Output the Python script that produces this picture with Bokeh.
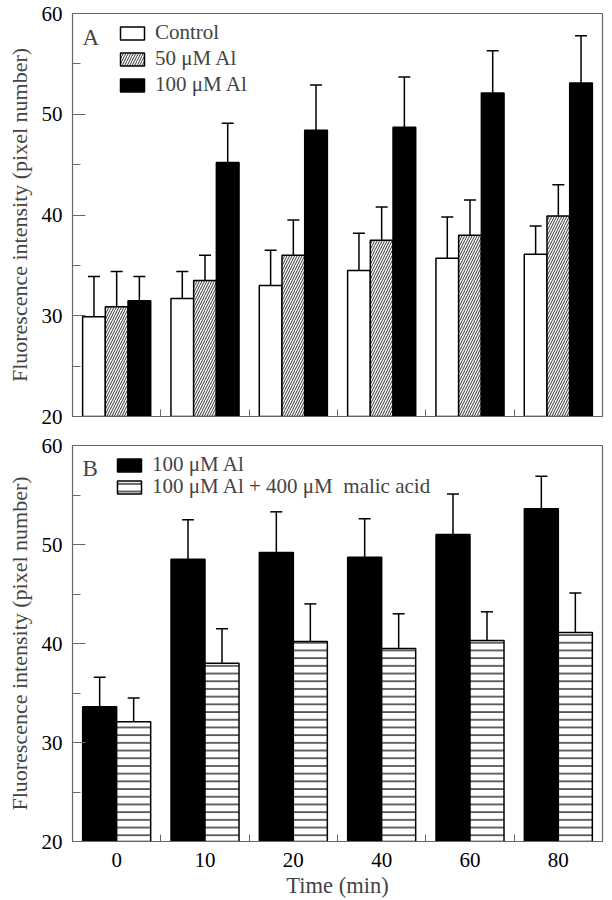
from bokeh.plotting import figure
from bokeh.models import (ColumnDataSource, Whisker, TeeHead, FixedTicker, Legend,
                          LegendItem, Label, Range1d)
from bokeh.layouts import column
from bokeh.embed import file_html
from bokeh.resources import INLINE

# ---------------- data ----------------
times = ["0", "10", "20", "40", "60", "80"]

# Panel A
a_control = [29.9, 31.7, 33.0, 34.5, 35.7, 36.1]
a_control_top = [33.9, 34.4, 36.5, 38.2, 39.8, 38.9]
a_al50 = [30.9, 33.5, 36.0, 37.5, 38.0, 39.9]
a_al50_top = [34.4, 36.0, 39.5, 40.8, 41.5, 43.0]
a_al100 = [31.5, 45.2, 48.4, 48.7, 52.1, 53.1]
a_al100_top = [33.9, 49.1, 52.9, 53.7, 56.3, 57.8]

# Panel B
b_al100 = [33.6, 48.5, 49.2, 48.7, 51.0, 53.6]
b_al100_top = [36.6, 52.5, 53.3, 52.6, 55.1, 56.9]
b_malic = [32.1, 38.0, 40.2, 39.5, 40.3, 41.1]
b_malic_top = [34.5, 41.5, 44.0, 43.0, 43.2, 45.1]

y_ticks = [20, 30, 40, 50, 60]
y_minor = [25, 35, 45, 55]

FONT = "Liberation Serif"
GRAY = "#666666"
TICK_FS = "21px"
LABEL_FS = "22.5px"
YLABEL_FS = "22px"
idx = list(range(len(times)))


def base_fig(height, border_top, border_bottom):
    p = figure(width=608, height=height, output_backend="svg", toolbar_location=None,
               x_range=Range1d(-0.5, len(times) - 0.5), y_range=Range1d(20, 60),
               min_border_left=72, min_border_right=6,
               min_border_top=border_top, min_border_bottom=border_bottom)
    p.xgrid.visible = False
    p.ygrid.visible = False
    p.outline_line_color = GRAY
    p.outline_line_width = 1.2
    p.background_fill_color = "white"
    p.border_fill_color = "white"

    ya = p.yaxis[0]
    ya.ticker = FixedTicker(ticks=y_ticks, minor_ticks=y_minor)
    ya.axis_line_color = GRAY
    ya.major_tick_line_color = GRAY
    ya.minor_tick_line_color = GRAY
    ya.major_tick_in = 13
    ya.major_tick_out = 0
    ya.minor_tick_in = 8
    ya.minor_tick_out = 0
    ya.major_label_text_font = FONT
    ya.major_label_text_font_size = TICK_FS
    ya.major_label_text_color = "black"
    ya.major_label_standoff = 10
    ya.axis_label = "Fluorescence intensity (pixel number)"
    ya.axis_label_text_font = FONT
    ya.axis_label_text_font_size = YLABEL_FS
    ya.axis_label_text_font_style = "normal"
    ya.axis_label_standoff = 7

    xa = p.xaxis[0]
    xa.ticker = FixedTicker(ticks=idx, minor_ticks=[i + 0.5 for i in idx[:-1]])
    xa.axis_line_color = GRAY
    xa.major_tick_line_color = None
    xa.minor_tick_line_color = GRAY
    xa.minor_tick_in = 7
    xa.minor_tick_out = 0
    xa.major_label_text_font = FONT
    xa.major_label_text_font_size = TICK_FS
    xa.major_label_text_color = "black"
    xa.major_label_standoff = 5
    return p


def add_err(p, xs, tops, uppers):
    src = ColumnDataSource(dict(x=xs, lower=tops, upper=uppers))
    w = Whisker(source=src, base="x", lower="lower", upper="upper",
                line_color="black", line_width=1.5,
                upper_head=TeeHead(size=12, line_width=1.5, line_color="black"),
                lower_head=None)
    p.add_layout(w)


def make_legend(items, loc, spacing=0):
    return Legend(items=items, location=loc, orientation="vertical",
                  label_text_font=FONT, label_text_font_size=TICK_FS,
                  label_text_line_height=1.0,
                  glyph_width=30, glyph_height=16, label_standoff=8, spacing=spacing,
                  label_height=20, padding=0, margin=0,
                  border_line_color=None, background_fill_alpha=0)


# ---------------- Panel A ----------------
pA = base_fig(430, 13, 14)
pA.xaxis[0].major_label_overrides = {i: "" for i in idx}
pA.xaxis[0].major_label_text_font_size = "0px"

bwA = 0.257
offsA = [-bwA, 0.0, bwA]
seriesA = [
    (a_control, a_control_top, dict(fill_color="white")),
    (a_al50, a_al50_top, dict(fill_color="white", hatch_pattern="/", hatch_scale=5,
                              hatch_weight=0.8, hatch_color="black")),
    (a_al100, a_al100_top, dict(fill_color="black")),
]
rendA = []
for off, (vals, tops, style) in zip(offsA, seriesA):
    xs = [i + off for i in idx]
    r = pA.vbar(x=xs, top=vals, bottom=20, width=bwA, line_color="black",
                line_width=1.5, **style)
    rendA.append(r)
    add_err(pA, xs, vals, tops)

pA.add_layout(make_legend([LegendItem(label="Control", renderers=[rendA[0]]),
                           LegendItem(label="50 μM Al", renderers=[rendA[1]]),
                           LegendItem(label="100 μM Al", renderers=[rendA[2]])],
                          (45, 319), spacing=1))
pA.add_layout(Label(x=10, y=379, x_units="screen", y_units="screen", text="A",
                    text_font=FONT, text_font_size="23px", text_baseline="alphabetic"))

# ---------------- Panel B ----------------
pB = base_fig(470, 15, 54)
pB.xaxis[0].major_label_overrides = {i: t for i, t in zip(idx, times)}
pB.xaxis[0].axis_label = "Time (min)"
pB.xaxis[0].axis_label_text_font = FONT
pB.xaxis[0].axis_label_text_font_size = LABEL_FS
pB.xaxis[0].axis_label_text_font_style = "normal"
pB.xaxis[0].axis_label_standoff = 3

bwB = 0.385
offsB = [-bwB / 2, bwB / 2]
seriesB = [
    (b_al100, b_al100_top, dict(fill_color="black")),
    (b_malic, b_malic_top, dict(fill_color="white", hatch_pattern="-", hatch_scale=7.7,
                                hatch_weight=1.2, hatch_color="black")),
]
rendB = []
for off, (vals, tops, style) in zip(offsB, seriesB):
    xs = [i + off for i in idx]
    r = pB.vbar(x=xs, top=vals, bottom=20, width=bwB, line_color="black",
                line_width=1.5, **style)
    rendB.append(r)
    add_err(pB, xs, vals, tops)

pB.add_layout(make_legend([LegendItem(label="100 μM Al", renderers=[rendB[0]])], (42, 364)))
pB.add_layout(make_legend([LegendItem(label="100 μM Al + 400 μM  malic acid",
                                      renderers=[rendB[1]])], (42, 342)))
pB.add_layout(Label(x=10, y=373, x_units="screen", y_units="screen", text="B",
                    text_font=FONT, text_font_size="23px", text_baseline="alphabetic"))

layout = column(pA, pB)
open("out.html", "w").write(file_html(layout, INLINE))
